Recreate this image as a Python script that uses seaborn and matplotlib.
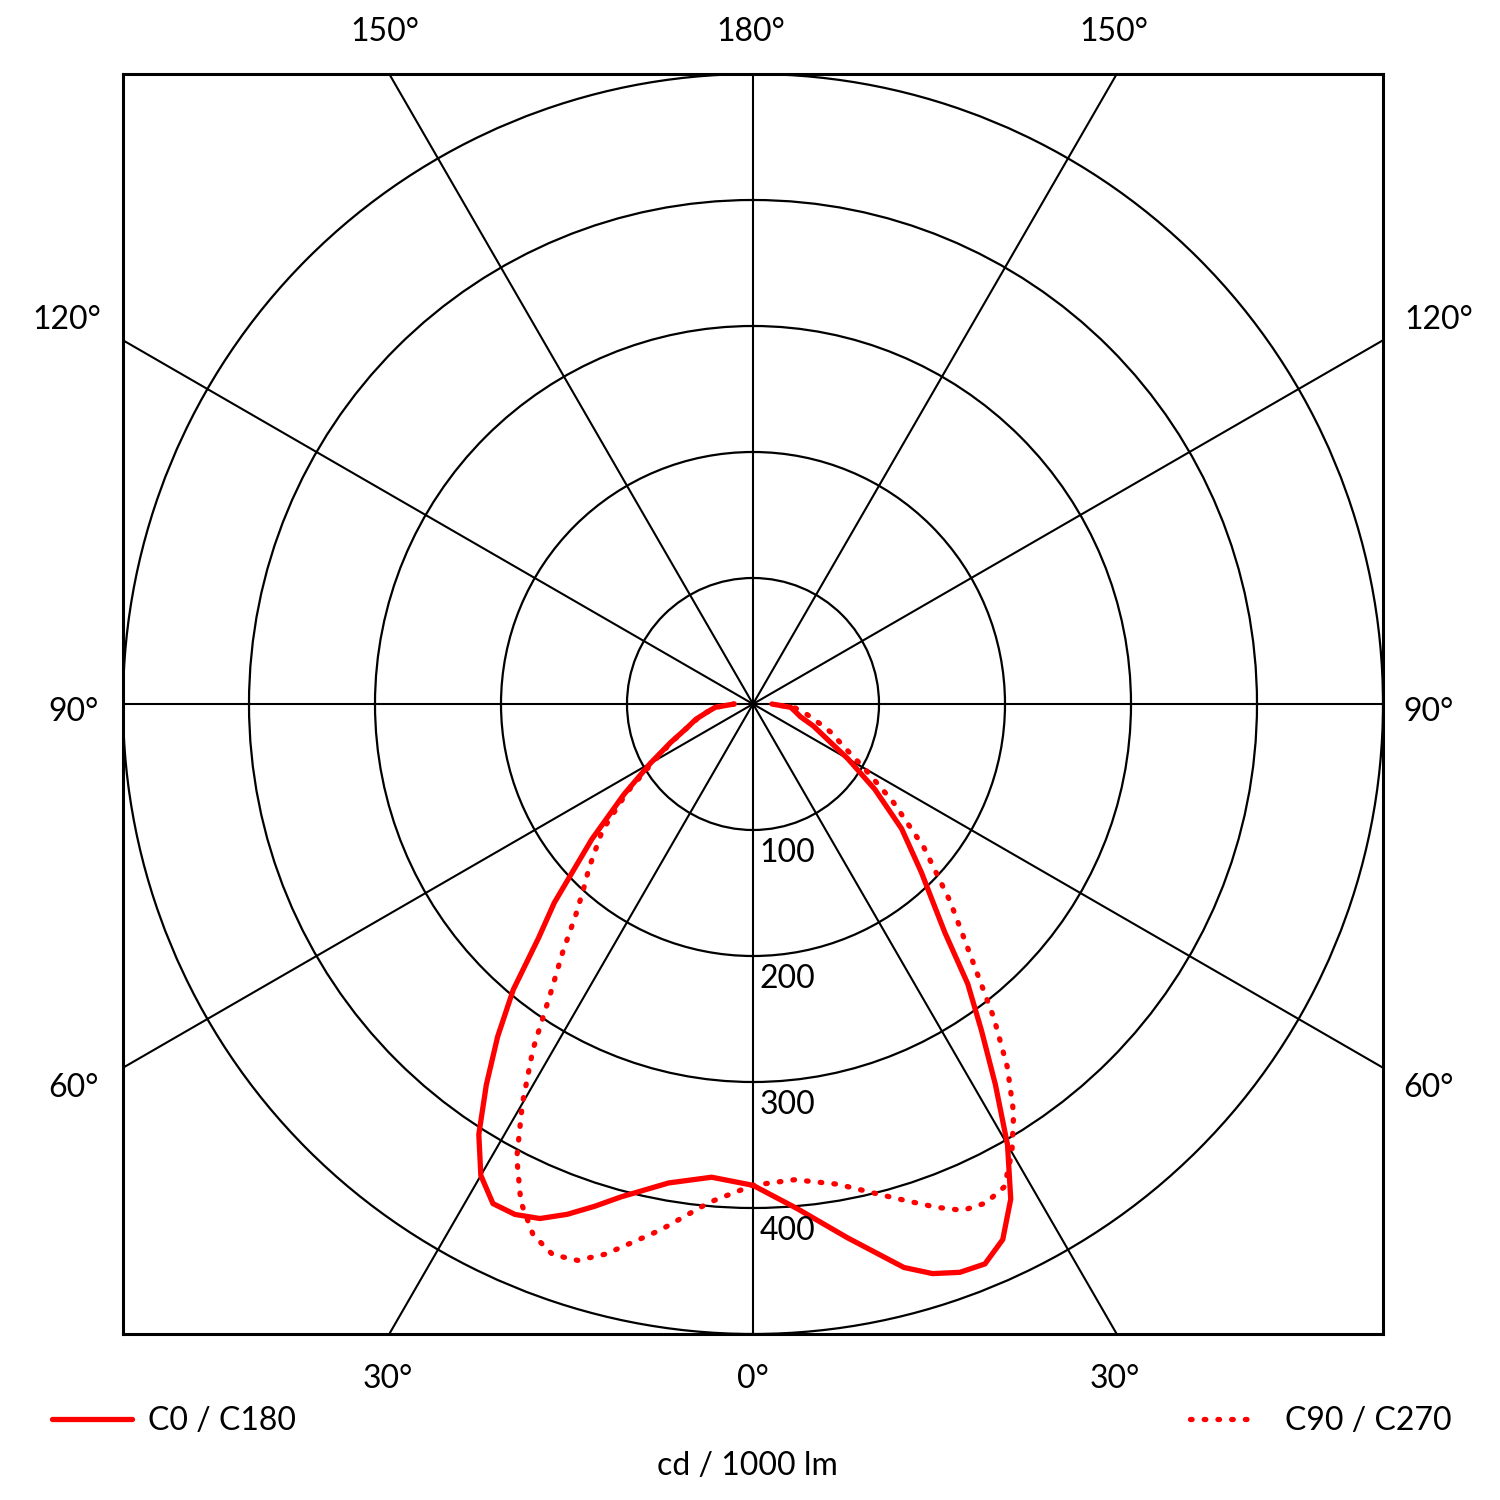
import numpy as np
import pandas as pd
import matplotlib.pyplot as plt
import seaborn as sns

# gamma angles (deg from nadir) and intensities in cd/1000 lm
angles = [0, 5, 10, 15, 17.5, 20, 22.5, 25, 27.5, 30, 32.5, 35, 37.5,
          40, 42.5, 45, 50, 55, 60, 65, 70, 75, 80, 85, 90]
c0 = [382, 402, 430, 463, 474, 480, 481, 469, 443, 404, 358, 316, 280,
      237, 210, 189, 154, 118, 87, 64, 51, 39, 34, 30, 15]
c180 = [382, 377, 386, 405, 418, 431, 442, 447, 447, 432, 405, 369, 333,
        296, 252, 223, 167, 125, 94, 72, 56, 47, 37, 30, 15]
c90 = [382, 379, 387, 404, 414, 425, 435, 437, 432, 411, 385, 352, 314,
       275, 245, 221, 177, 136, 102, 79, 66, 52, 42, 33, 15]
c270 = [382, 397, 424, 452, 463, 465, 456, 436, 406, 366, 325, 280, 248,
        219, 199, 184, 156, 122, 91, 71, 56, 46, 37, 30, 15]

rings = [100, 200, 300, 400, 500]
spokes = [0, 30, 60, 90, 120, 150]
angle_labels = [("150°", -292, 533), ("180°", -2, 533), ("150°", 286, 533),
                ("120°", -545, 305), ("120°", 544, 305),
                ("90°", -539, -6), ("90°", 536, -6),
                ("60°", -539, -305), ("60°", 536, -305),
                ("30°", -290, -536), ("0°", 0, -536), ("30°", 287, -536)]


def curve(right, left):
    g = np.radians(np.concatenate([-np.array(angles[::-1]), np.array(angles)]))
    r = np.concatenate([np.array(left[::-1]), np.array(right)])
    return pd.DataFrame({"x": r * np.sin(g), "y": -r * np.cos(g)})


sns.set_style("white")
plt.rcParams['font.family'] = ['Lato', 'DejaVu Sans']
plt.rcParams['text.color'] = 'black'

fig = plt.figure(figsize=(15, 15), dpi=100)
ax = fig.add_axes([123 / 1500, 166 / 1500, 1260 / 1500, 1260 / 1500])
ax.set_xlim(-500, 500)
ax.set_ylim(-500, 500)
ax.set_aspect('equal')

# grid: rings and spokes
for r in rings:
    ax.add_patch(plt.Circle((0, 0), r, fill=False, lw=1.6, color='black', zorder=1))
for a in spokes:
    t = np.radians(a)
    ax.plot([-1000 * np.sin(t), 1000 * np.sin(t)], [1000 * np.cos(t), -1000 * np.cos(t)],
            color='black', lw=1.5, zorder=1)

sns.lineplot(data=curve(c0, c180), x="x", y="y", sort=False, estimator=None,
             color='red', lw=3.8, ax=ax, zorder=3, solid_joinstyle='round',
             solid_capstyle='round')
solid = ax.lines[-1]
sns.lineplot(data=curve(c90, c270), x="x", y="y", sort=False, estimator=None,
             color='red', lw=3.8, ax=ax, zorder=3, linestyle=(0, (0.3, 2.3)),
             dash_capstyle='round')
dotted = ax.lines[-1]

for r in rings[:-1]:
    ax.text(5, -(r + 18), str(r), fontsize=23, ha='left', va='center', zorder=4)
for txt, x, y in angle_labels:
    ax.text(x, y, txt, fontsize=23, ha='center', va='center', clip_on=False)

ax.set_xticks([])
ax.set_yticks([])
ax.set_xlabel("")
ax.set_ylabel("")
for s in ax.spines.values():
    s.set_visible(True)
    s.set_color('black')
    s.set_linewidth(2.2)

fig.legend(handles=[solid], labels=['C0 / C180'], loc='center left',
           bbox_to_anchor=(52 / 1500, 1 - 1421 / 1500), frameon=False, fontsize=23,
           handlelength=2.5, handletextpad=0.5, borderpad=0, borderaxespad=0,
           labelcolor='black')
fig.legend(handles=[dotted], labels=['C90 / C270'], loc='center right',
           bbox_to_anchor=(1452 / 1500, 1 - 1421 / 1500), frameon=False, fontsize=23,
           handlelength=2.1, handletextpad=0.9, borderpad=0, borderaxespad=0,
           labelcolor='black')
fig.text(0.498, 1 - 1466 / 1500, 'cd / 1000 lm', ha='center', va='center', fontsize=23)

fig.savefig('out.png', dpi=100)
